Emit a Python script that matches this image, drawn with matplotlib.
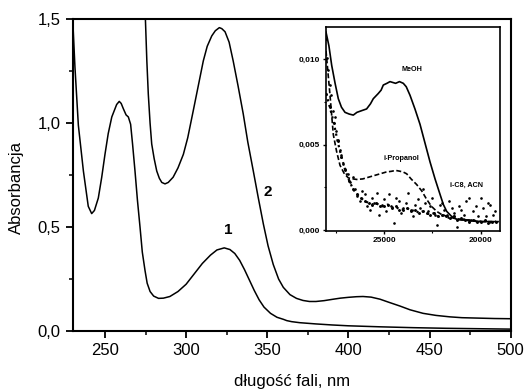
import matplotlib
matplotlib.use("Agg")
import matplotlib.pyplot as plt
from matplotlib.ticker import MultipleLocator, FuncFormatter

plt.rcParams['font.family'] = ['Liberation Sans', 'DejaVu Sans']

# ---- main spectra (wavelength, nm) ----
wl_1 = [230.0, 231.5, 233.6, 236.7, 239.7, 241.8, 243.5, 245.9, 248.0, 250.0, 252.0,
        254.2, 257.2, 258.8, 260.0, 261.3, 263.0, 264.4, 265.8, 267.0, 268.5, 270.0,
        271.6, 273.0, 274.7, 276.0, 277.8, 280.0, 283.0, 286.0, 290.0, 295.0, 300.0,
        305.0, 310.0, 315.0, 319.0, 323.5, 327.0, 330.0, 333.0, 336.0, 339.0, 342.0,
        345.0, 348.0, 352.0, 356.0, 360.0, 362.0, 365.0, 370.0, 380.0, 390.0, 400.0,
        420.0, 440.0, 460.0, 480.0, 500.0]
abs_1 = [1.52, 1.27, 0.99, 0.77, 0.60, 0.565, 0.58, 0.64, 0.74, 0.85, 0.95,
         1.03, 1.09, 1.105, 1.095, 1.07, 1.04, 1.03, 0.995, 0.90, 0.77, 0.63,
         0.50, 0.38, 0.29, 0.23, 0.19, 0.168, 0.157, 0.158, 0.166, 0.19, 0.225,
         0.275, 0.325, 0.365, 0.39, 0.40, 0.392, 0.373, 0.34, 0.295, 0.245, 0.195,
         0.15, 0.115, 0.085, 0.066, 0.056, 0.050, 0.045, 0.040, 0.034, 0.029, 0.025,
         0.020, 0.016, 0.013, 0.011, 0.009]

wl_2 = [274.7, 275.8, 276.7, 277.8, 278.8, 280.3, 281.9, 283.5, 285.0, 287.0, 289.0,
        292.0, 295.0, 298.3, 301.0, 304.4, 307.5, 310.6, 313.0, 315.8, 318.0, 320.5,
        322.0, 324.0, 326.5, 329.0, 332.0, 335.2, 338.0, 341.4, 344.5, 347.6, 350.5,
        353.7, 357.0, 359.9, 364.0, 368.0, 372.0, 376.0, 380.0, 385.0, 390.7, 395.0,
        400.0, 405.0, 409.0, 414.0, 419.5, 425.0, 431.8, 438.0, 446.0, 454.0, 462.6,
        470.0, 480.0, 490.0, 500.0]
abs_2 = [1.55, 1.30, 1.14, 1.00, 0.90, 0.83, 0.77, 0.735, 0.715, 0.708, 0.715,
         0.74, 0.785, 0.85, 0.93, 1.06, 1.18, 1.30, 1.37, 1.42, 1.445, 1.46,
         1.455, 1.44, 1.39, 1.30, 1.18, 1.045, 0.91, 0.77, 0.64, 0.515, 0.41,
         0.32, 0.25, 0.21, 0.175, 0.157, 0.147, 0.142, 0.142, 0.146, 0.153, 0.158,
         0.162, 0.165, 0.166, 0.163, 0.153, 0.138, 0.12, 0.102, 0.085, 0.075, 0.068,
         0.064, 0.062, 0.060, 0.059]

# ---- inset: weak band, wavenumber (cm-1) ----
wn_meoh = [28000, 27850, 27705, 27530, 27364, 27200, 27017, 26800, 26588, 26400, 26154,
           25900, 25700, 25554, 25300, 25150, 25036, 24850, 24690, 24400, 24200, 24002, 23850, 23655,
           23400, 23138, 22880, 22621, 22360, 22104, 21930, 21758, 21500, 21240, 20800,
           20382, 19948, 19500, 19100]
abs_meoh = [0.0116, 0.0108, 0.00965, 0.0086, 0.0077, 0.0072, 0.0069, 0.0068, 0.00674, 0.0069, 0.0070,
            0.0071, 0.0074, 0.0077, 0.0080, 0.0082, 0.0085, 0.0086, 0.0087, 0.0086, 0.0087, 0.0086, 0.0084, 0.0079,
            0.0071, 0.0062, 0.0051, 0.0040, 0.0030, 0.0021, 0.0015, 0.0011, 0.0008, 0.00064, 0.00058,
            0.00054, 0.0005, 0.0005, 0.0005]

wn_prop = [28000, 27800, 27622, 27450, 27276, 27050, 26845, 26600, 26412, 26100, 25800,
           25500, 25200, 24900, 24600, 24400, 24173, 24000, 23827, 23600, 23310, 23050,
           22792, 22550, 22275, 22000, 21700, 21400, 21000, 20600, 20200, 19800, 19400]
abs_prop = [0.0105, 0.0080, 0.0056, 0.0046, 0.0038, 0.0033, 0.00306, 0.0030, 0.00297, 0.0030, 0.0031,
            0.0032, 0.0033, 0.0034, 0.00345, 0.0035, 0.00345, 0.0034, 0.0033, 0.0030, 0.00267, 0.0023,
            0.0018, 0.0014, 0.0011, 0.0009, 0.0008, 0.0007, 0.0006, 0.0006, 0.0005, 0.0005, 0.0005]

wn_acn = [28000, 27800, 27600, 27400, 27200, 27000, 26800, 26600, 26400, 26200, 26000,
          25800, 25600, 25400, 25200, 25000, 24800, 24600, 24400, 24200, 24000, 23800,
          23600, 23400, 23200, 23000, 22800, 22600, 22400, 22200, 22000, 21800, 21600,
          21400, 21200, 21000, 20800, 20600, 20400, 20200, 20000, 19800, 19600, 19400, 19200]
abs_acn = [0.0080, 0.0072, 0.0063, 0.0052, 0.0043, 0.0035, 0.0029, 0.0024, 0.0021, 0.0019, 0.0017,
           0.0016, 0.0015, 0.0016, 0.0014, 0.0014, 0.0015, 0.0013, 0.0014, 0.0012, 0.0012, 0.0013,
           0.0011, 0.0012, 0.0010, 0.0011, 0.0010, 0.0009, 0.0010, 0.0008, 0.0009, 0.0008, 0.0007,
           0.0008, 0.0006, 0.0007, 0.0006, 0.0005, 0.0006, 0.0005, 0.0005, 0.0006, 0.0004, 0.0005, 0.0005]

wn_ic8 = [28000, 27950, 27880, 27800, 27720, 27650, 27560, 27480, 27400, 27300, 27200,
          27100, 27000, 26880, 26750, 26620, 26500, 26380, 26250, 26120, 26000, 25880,
          25750, 25620, 25500, 25380, 25250, 25120, 25000, 24880, 24750, 24620, 24500,
          24380, 24250, 24120, 24000, 23880, 23750, 23620, 23500, 23380, 23250, 23120,
          23000, 22880, 22750, 22620, 22500, 22380, 22250, 22120, 22000, 21880, 21750,
          21620, 21500, 21380, 21250, 21120, 21000, 20880, 20750, 20620, 20500, 20380,
          20250, 20120, 20000, 19880, 19750, 19620, 19500, 19380, 19250]
abs_ic8 = [0.0112, 0.0101, 0.0094, 0.0085, 0.0079, 0.0070, 0.0066, 0.0058, 0.0053, 0.0047, 0.0044,
           0.0039, 0.0036, 0.0033, 0.0028, 0.0031, 0.0024, 0.0020, 0.0017, 0.0023, 0.0021, 0.0014,
           0.0012, 0.0019, 0.0016, 0.0022, 0.0009, 0.0015, 0.0018, 0.0011, 0.0021, 0.0014, 0.0004,
           0.0019, 0.0017, 0.0010, 0.0013, 0.0016, 0.0022, 0.0012, 0.0008, 0.0015, 0.0018, 0.0013,
           0.0024, 0.0016, 0.0011, 0.0014, 0.0019, 0.0009, 0.0003, 0.0015, 0.0016, 0.0012, 0.0009,
           0.0017, 0.0013, 0.0010, 0.0002, 0.0014, 0.0012, 0.0009, 0.0017, 0.0019, 0.0006, 0.0011,
           0.0014, 0.0008, 0.0019, 0.0013, 0.0008, 0.0016, 0.0015, 0.0009, 0.0011]

comma = lambda fmt: FuncFormatter(lambda v, p: (fmt % v).replace('.', ','))

fig = plt.figure(figsize=(5.27, 3.90), dpi=100)
ax = fig.add_axes([0.1376, 0.1513, 0.8314, 0.7992])

ax.plot(wl_1, abs_1, color='black', lw=1.1)
ax.plot(wl_2, abs_2, color='black', lw=1.1)
ax.set_xlim(230, 500)
ax.set_ylim(0, 1.5)
ax.xaxis.set_major_locator(MultipleLocator(50))
ax.xaxis.set_minor_locator(MultipleLocator(25))
ax.yaxis.set_major_locator(MultipleLocator(0.5))
ax.yaxis.set_minor_locator(MultipleLocator(0.25))
ax.yaxis.set_major_formatter(comma('%.1f'))
ax.tick_params(which='major', direction='out', length=5, width=1.3, labelsize=12)
ax.tick_params(which='minor', direction='out', length=3, width=1.1)
for s in ax.spines.values():
    s.set_linewidth(1.5)
ax.set_xlabel('długość fali, nm', fontsize=12, labelpad=12)
ax.set_ylabel('Absorbancja', fontsize=12)
ax.yaxis.set_label_coords(-0.11, 0.46)

ax.text(325.8, 0.487, '1', fontsize=11, fontweight='bold', ha='center', va='center')
ax.text(350.5, 0.67, '2', fontsize=11, fontweight='bold', ha='center', va='center')

# ---- inset ----
ins = fig.add_axes([0.6186, 0.4077, 0.3302, 0.5231])
ins.plot(wn_meoh, abs_meoh, color='black', lw=1.2)
ins.plot(wn_prop, abs_prop, color='black', lw=1.2, ls=(0, (3, 1.5)))
ins.plot(wn_ic8, abs_ic8, color='black', ls='none', marker='.', ms=1.8)
ins.plot(wn_acn, abs_acn, color='black', lw=1.6, ls=':', marker='.', ms=2.2)
ins.set_xlim(28000, 19000)
ins.set_ylim(-0.00005, 0.0119)
ins.xaxis.set_major_locator(MultipleLocator(5000))
ins.xaxis.set_minor_locator(MultipleLocator(2500))
ins.yaxis.set_major_locator(MultipleLocator(0.005))
ins.yaxis.set_minor_locator(MultipleLocator(0.0025))
ins.yaxis.set_major_formatter(comma('%.3f'))
ins.xaxis.set_major_formatter(FuncFormatter(lambda v, p: '%d' % v))
ins.tick_params(which='major', direction='out', length=2.5, width=1.0, pad=2)
ins.tick_params(which='minor', direction='out', length=1.5, width=0.8)
for lab in ins.get_xticklabels() + ins.get_yticklabels():
    lab.set_fontsize(6)
    lab.set_fontweight('bold')
for s in ins.spines.values():
    s.set_linewidth(1.2)

ins.text(23567, 0.0094, 'MeOH', fontsize=5.2, fontweight='bold', ha='center', va='center')
ins.text(24085, 0.0042, 'i-Propanol', fontsize=5.2, fontweight='bold', ha='center', va='center')
ins.text(20723, 0.0026, 'i-C8, ACN', fontsize=5.2, fontweight='bold', ha='center', va='center')

fig.savefig('out.png', dpi=100)
